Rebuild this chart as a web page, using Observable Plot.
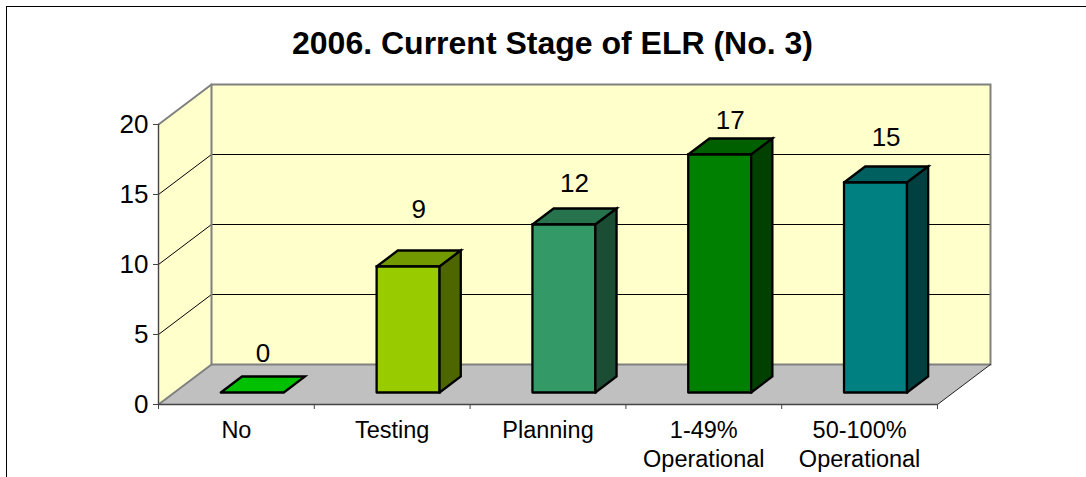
<!DOCTYPE html>
<html>
<head>
<meta charset="utf-8">
<script src="https://cdn.jsdelivr.net/npm/d3@7"></script>
<script src="https://cdn.jsdelivr.net/npm/@observablehq/plot@0.6"></script>
<style>
html,body{margin:0;padding:0;background:#fff;overflow:hidden;width:1086px;height:477px;font-family:"Liberation Sans",Arial,sans-serif;}
#frame{position:absolute;left:6px;top:6px;width:1200px;height:600px;border-left:1.4px solid #000;border-top:1.4px solid #000;}
#title{position:relative;box-sizing:border-box;width:1086px;height:70px;padding-left:19px;text-align:center;font-size:32px;font-weight:bold;line-height:87px;color:#000;}
#chart{position:relative;width:1086px;height:407px;}
#chart svg{display:block;}
</style>
</head>
<body>
<div id="frame"></div>
<div id="title">2006. Current Stage of ELR (No. 3)</div>
<div id="chart"></div>
<script>
// Data
const categories = ["No", "Testing", "Planning", "1-49%\nOperational", "50-100%\nOperational"];
const values = [0, 9, 12, 17, 15];
const yTicks = [0, 5, 10, 15, 20];
const gridValues = [5, 10, 15];

// Colours
const frontColors = ["#00C000", "#99CC00", "#339966", "#008000", "#008080"];
const topColors   = ["#00C000", "#739900", "#26734D", "#006000", "#006060"];
const sideColors  = ["#006000", "#4D6600", "#1A4D33", "#004000", "#004040"];

// Projection of the depth axis, in units of the x and y scales
const yMax = 20;
const depthX = 53 / 155.8;
const depthY = 40 / 14;
const barLeft = 0.298, barWidth = 0.404, barNear = 0.3, barFar = 0.7;
// extra lift of each value label above its bar, in value units
const labelLift = [2.2, 3.5, 2.29, 1.82, 2.64];

const n = categories.length;
const P = (x, v, z) => ({x: x + z * depthX, y: v + z * depthY});
const poly = (key, fill, pts) => pts.map(([x, v, z]) => ({key, fill, ...P(x, v, z)}));

const walls = [
  ...poly("side", "#FFFFCC", [[0,0,0],[0,yMax,0],[0,yMax,1],[0,0,1],[0,0,0]]),
  ...poly("back", "#FFFFCC", [[0,0,1],[0,yMax,1],[n,yMax,1],[n,0,1],[0,0,1]]),
  ...poly("floor", "#C0C0C0", [[0,0,0],[n,0,0],[n,0,1],[0,0,1],[0,0,0]])
];
const grid = gridValues.flatMap(v => poly("g" + v, "none", [[0,v,0],[0,v,1],[n,v,1]]));
const edges = [
  ...poly("backEdge", "none", [[0,0,1],[0,yMax,1],[n,yMax,1],[n,0,1],[0,0,1]]),
  ...poly("topDiag", "none", [[0,yMax,0],[0,yMax,1]]),
  ...poly("floorDiag", "none", [[0,0,0],[0,0,1]])
];
const rightDiag = poly("rightDiag", "none", [[n,0,0],[n,0,1]]);
const axisEdges = [
  ...poly("yAxisLine", "none", [[0,0,0],[0,yMax,0]]),
  ...poly("xAxisLine", "none", [[0,0,0],[n,0,0]])
];
const faces = values.flatMap((v, i) => {
  const a = i + barLeft, b = a + barWidth;
  const out = poly("top" + i, topColors[i], [[a,v,barNear],[b,v,barNear],[b,v,barFar],[a,v,barFar],[a,v,barNear]]);
  if (v > 0) {
    out.push(...poly("front" + i, frontColors[i], [[a,0,barNear],[a,v,barNear],[b,v,barNear],[b,0,barNear],[a,0,barNear]]));
    out.push(...poly("side" + i, sideColors[i], [[b,0,barNear],[b,v,barNear],[b,v,barFar],[b,0,barFar],[b,0,barNear]]));
  }
  return out;
});
const labels = values.map((v, i) => ({
  text: String(v),
  x: i + barLeft + barWidth / 2 + 0.5 * depthX,
  y: v + barNear * depthY + labelLift[i]
}));

const chart = Plot.plot({
  width: 1086, height: 407,
  marginLeft: 158, marginRight: 96, marginTop: 14, marginBottom: 73,
  style: {fontFamily: '"Liberation Sans", Arial, sans-serif', background: "transparent", overflow: "visible"},
  x: {type: "linear", domain: [0, n + depthX], axis: null},
  y: {type: "linear", domain: [0, yMax + depthY], axis: null},
  color: {type: "identity"},
  marks: [
    Plot.line(walls, {x: "x", y: "y", z: "key", fill: "fill", stroke: "none"}),
    Plot.line(grid, {x: "x", y: "y", z: "key", stroke: "#000", strokeWidth: 1}),
    Plot.line(edges, {x: "x", y: "y", z: "key", stroke: "#808080", strokeWidth: 2, strokeLinejoin: "miter", strokeMiterlimit: 4}),
    Plot.line(rightDiag, {x: "x", y: "y", z: "key", stroke: "#222", strokeWidth: 1}),
    Plot.line(axisEdges, {x: "x", y: "y", z: "key", stroke: "#444", strokeWidth: 1.4}),
    Plot.line(faces, {x: "x", y: "y", z: "key", fill: "fill", stroke: "#000", strokeWidth: 2.3, strokeLinejoin: "miter", strokeMiterlimit: 4}),
    Plot.axisY(yTicks, {anchor: "left", label: null, tickSize: 5, tickPadding: 5, fontSize: 26, stroke: "#444", fill: "#000", tickFormat: d => String(d)}),
    Plot.axisX(d3.range(n + 1), {anchor: "bottom", label: null, tickSize: 5, stroke: "#444", tickFormat: () => ""}),
    Plot.axisX(d3.range(n).map(i => i + 0.5), {anchor: "bottom", label: null, tickSize: 0, tickPadding: 13, fontSize: 23.5, lineHeight: 1.22, fill: "#000", tickFormat: d => categories[d - 0.5]}),
    Plot.text(labels, {x: "x", y: "y", text: "text", fontSize: 26, fill: "#000", lineAnchor: "bottom"})
  ]
});
document.getElementById("chart").appendChild(chart);
</script>
</body>
</html>
